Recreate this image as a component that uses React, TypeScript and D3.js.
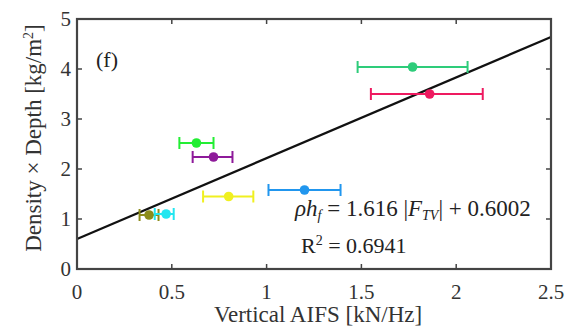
import React from "react";
import * as d3 from "d3";

const W = 567, H = 330;
const names = ["olive", "cyan", "yellow", "blue", "green", "purple", "teal", "crimson"];
const xVals = [0.38, 0.47, 0.80, 1.20, 0.63, 0.72, 1.77, 1.86];
const yVals = [1.08, 1.10, 1.45, 1.58, 2.52, 2.24, 4.04, 3.50];
const xLo = [0.33, 0.41, 0.665, 1.01, 0.54, 0.61, 1.48, 1.55];
const xHi = [0.43, 0.51, 0.93, 1.39, 0.72, 0.82, 2.06, 2.14];
const colors = ["#8c8c1a", "#22e6f0", "#f0f020", "#2196ee", "#22ee33", "#8e1a9a", "#2ecc7a", "#ee1a60"];
const xTicks = [0, 0.5, 1, 1.5, 2, 2.5];
const yTicks = [0, 1, 2, 3, 4, 5];
const slope = 1.616, intercept = 0.6002;

export default function App() {
  const x = d3.scaleLinear().domain([0, 2.5]).range([77, 551]);
  const y = d3.scaleLinear().domain([0, 5]).range([269, 19]);
  const font = "'Liberation Serif', 'Times New Roman', serif";
  const axisColor = "#444";
  const line = d3.line<number>().x((d) => x(d)).y((d) => y(slope * d + intercept));
  const tk = 5;
  return (
    <svg width={W} height={H} style={{ position: "absolute", left: 0, top: 0, background: "#fff" }} fontFamily={font}>
      <rect x={0} y={0} width={W} height={H} fill="#fff" />
      {/* regression line */}
      <path d={line([0, 2.5]) || ""} stroke="#111" strokeWidth={2.2} fill="none" />
      {/* error bars */}
      {names.map((n, i) => {
        const c = colors[i];
        const cy = y(yVals[i]);
        return (
          <g key={n} stroke={c} strokeWidth={2}>
            <line x1={x(xLo[i])} x2={x(xHi[i])} y1={cy} y2={cy} />
            <line x1={x(xLo[i])} x2={x(xLo[i])} y1={cy - 6} y2={cy + 6} />
            <line x1={x(xHi[i])} x2={x(xHi[i])} y1={cy - 6} y2={cy + 6} />
            <circle cx={x(xVals[i])} cy={cy} r={4.8} fill={c} stroke="none" />
          </g>
        );
      })}
      {/* axes box */}
      <rect x={x(0)} y={y(5)} width={x(2.5) - x(0)} height={y(0) - y(5)} fill="none" stroke={axisColor} strokeWidth={2.2} />
      {xTicks.map((t) => (
        <g key={"xt" + t}>
          <line x1={x(t)} x2={x(t)} y1={y(0)} y2={y(0) - tk} stroke={axisColor} strokeWidth={1.5} />
          <line x1={x(t)} x2={x(t)} y1={y(5)} y2={y(5) + tk} stroke={axisColor} strokeWidth={1.5} />
          <text x={x(t)} y={299} textAnchor="middle" fontSize={21} fill="#333">{t}</text>
        </g>
      ))}
      {yTicks.map((t) => (
        <g key={"yt" + t}>
          <line x1={x(0)} x2={x(0) + tk} y1={y(t)} y2={y(t)} stroke={axisColor} strokeWidth={1.5} />
          <line x1={x(2.5)} x2={x(2.5) - tk} y1={y(t)} y2={y(t)} stroke={axisColor} strokeWidth={1.5} />
          <text x={71} y={y(t) + 7} textAnchor="end" fontSize={21} fill="#333">{t}</text>
        </g>
      ))}
      <text x={318} y={322} textAnchor="middle" fontSize={23} fill="#333">Vertical AIFS [kN/Hz]</text>
      <text transform={`translate(41,138) rotate(-90)`} textAnchor="middle" fontSize={23} fill="#333">
        Density × Depth [kg/m<tspan dy={-8} fontSize={14}>2</tspan><tspan dy={8}>]</tspan>
      </text>
      <text x={96} y={67} fontSize={22} fill="#222">(f)</text>
      <text x={295} y={216} fontSize={23} fill="#222">
        <tspan fontStyle="italic">ρh</tspan><tspan fontStyle="italic" fontSize={14} dy={4}>f</tspan>
        <tspan dy={-4}> = 1.616 |</tspan><tspan fontStyle="italic">F</tspan><tspan fontStyle="italic" fontSize={14} dy={4}>TV</tspan>
        <tspan dy={-4}>| + 0.6002</tspan>
      </text>
      <text x={301} y={253} fontSize={22} fill="#222">
        R<tspan dy={-8} fontSize={14}>2</tspan><tspan dy={8}> = 0.6941</tspan>
      </text>
    </svg>
  );
}
